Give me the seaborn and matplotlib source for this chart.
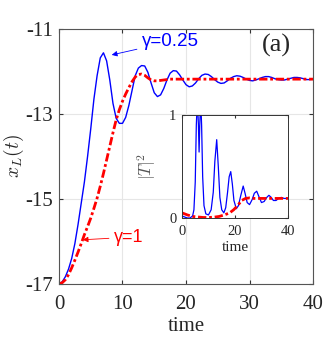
import numpy as np
import pandas as pd
import matplotlib
matplotlib.use("Agg")
import matplotlib.pyplot as plt
import seaborn as sns

# main panel: x_L(t) for the two damping values
t_main = np.arange(0, 40.5, 0.5)
x_gamma_025 = [
    -17.0, -16.95, -16.83, -16.65, -16.4, -16.05, -15.6, -15.1, -14.6, -14.0,
    -13.35, -12.65, -12.1, -11.68, -11.56, -11.75, -12.2, -12.75, -13.1, -13.22,
    -13.22, -13.08, -12.8, -12.45, -12.1, -11.92, -11.86, -11.87, -12.02, -12.27,
    -12.5, -12.59, -12.55, -12.4, -12.2, -12.04, -11.98, -11.99, -12.08, -12.2,
    -12.31, -12.36, -12.34, -12.27, -12.17, -12.09, -12.06, -12.07, -12.12, -12.19,
    -12.25, -12.28, -12.27, -12.22, -12.16, -12.12, -12.1, -12.11, -12.14, -12.18,
    -12.21, -12.22, -12.2, -12.17, -12.14, -12.12, -12.12, -12.14, -12.17, -12.19,
    -12.2, -12.2, -12.18, -12.16, -12.14, -12.14, -12.15, -12.17, -12.19, -12.19,
    -12.18,
]
x_gamma_1 = [
    -17.0, -16.97, -16.9, -16.78, -16.62, -16.44, -16.25, -16.05, -15.84, -15.65,
    -15.45, -15.22, -14.98, -14.7, -14.4, -14.08, -13.76, -13.44, -13.14, -12.9,
    -12.7, -12.53, -12.38, -12.24, -12.13, -12.07, -12.06, -12.09, -12.15, -12.2,
    -12.22, -12.22, -12.21, -12.2, -12.19, -12.18, -12.18, -12.18, -12.18, -12.18,
    -12.18, -12.18, -12.18, -12.18, -12.18, -12.18, -12.18, -12.18, -12.18, -12.18,
    -12.18, -12.18, -12.18, -12.18, -12.18, -12.18, -12.18, -12.18, -12.18, -12.18,
    -12.18, -12.18, -12.18, -12.18, -12.18, -12.18, -12.18, -12.18, -12.18, -12.18,
    -12.18, -12.18, -12.18, -12.18, -12.18, -12.18, -12.18, -12.18, -12.18, -12.18,
    -12.18,
]

# inset: |T|^2
t_T_025 = [0, 1, 2, 3, 4, 4.5, 5.0, 5.4, 5.8, 6.2, 6.45, 6.7, 7.05, 7.4, 7.8,
           8.3, 9.0, 10.0, 11.0, 11.8, 12.4, 13.1, 13.7, 14.3, 15.0, 15.8, 16.5,
           17.2, 17.8, 18.4, 19.0, 19.6, 20.5, 21.3, 22.2, 23.1, 23.8, 24.6, 25.5,
           26.5, 27.3, 28.2, 29.0, 30.0, 31.0, 32.0, 32.8, 33.7, 34.5, 35.5, 36.5,
           37.5, 38.5, 40.0]
T_gamma_025 = [0.02, 0.01, 0.0, 0.0, 0.02, 0.08, 0.35, 0.9, 1.15, 0.9, 0.64, 0.9,
               1.15, 0.9, 0.4, 0.12, 0.04, 0.03, 0.08, 0.25, 0.55, 0.76, 0.5, 0.2,
               0.08, 0.05, 0.1, 0.25, 0.4, 0.45, 0.33, 0.17, 0.09, 0.12, 0.22, 0.31,
               0.24, 0.15, 0.13, 0.18, 0.24, 0.26, 0.21, 0.15, 0.16, 0.2, 0.22, 0.2,
               0.17, 0.17, 0.19, 0.2, 0.19, 0.19]
t_T_1 = [0, 2, 4, 6, 8, 10, 12, 14, 16, 18, 19.5, 21, 22.5, 24, 25.5, 27, 30, 35, 40]
T_gamma_1 = [0.05, 0.03, 0.015, 0.01, 0.005, 0.005, 0.008, 0.015, 0.03, 0.05, 0.08,
             0.12, 0.17, 0.19, 0.195, 0.19, 0.19, 0.19, 0.19]

main_ticks_x = [0, 10, 20, 30, 40]
main_ticks_y = [-17, -15, -13, -11]

sns.set_style("ticks")
plt.rcParams['font.family'] = ['Liberation Serif', 'DejaVu Serif']
plt.rcParams['mathtext.fontset'] = 'cm'

blue = '#0000ff'
red = '#ff0000'
dashdot = (0, (3, 1, 1, 1))
sans = ['Liberation Sans', 'DejaVu Sans']

fig = plt.figure(figsize=(3.27, 3.38), dpi=100)
ax = fig.add_axes([0.1804, 0.1598, 0.7768, 0.7544])

df_main = pd.DataFrame({'t': t_main, 'g025': x_gamma_025, 'g1': x_gamma_1})
sns.lineplot(data=df_main, x='t', y='g025', ax=ax, color=blue, lw=1.0,
             estimator=None)
sns.lineplot(data=df_main, x='t', y='g1', ax=ax, color=red, lw=2.0,
             linestyle=dashdot, estimator=None)

ax.set_xlim(0, 40)
ax.set_ylim(-17, -11)
ax.set_xticks(main_ticks_x)
ax.set_yticks(main_ticks_y)
ax.set_yticklabels([str(v) for v in main_ticks_y])
ax.grid(True, color='#e6e6e6', lw=0.8)
ax.set_axisbelow(True)
ax.tick_params(direction='in', length=3, labelsize=15, top=True, right=True,
               color='#333333')
ax.tick_params(axis='x', pad=8)
ax.tick_params(axis='y', pad=4)
for s in ax.spines.values():
    s.set_color('#555555')
    s.set_linewidth(0.8)
ax.set_xlabel('time', fontsize=15, labelpad=2)
ax.set_ylabel('$x_L(t)$', fontsize=14, labelpad=0)

ax.annotate('γ=0.25', xy=(8.3, -11.61), xytext=(13.0, -11.3),
            color=blue, fontsize=13.5, family=sans, va='center', ha='left',
            arrowprops=dict(arrowstyle='-|>', color=blue, lw=0.6,
                            mutation_scale=8, shrinkA=1, shrinkB=0))
ax.annotate('γ=1', xy=(3.73, -15.96), xytext=(8.6, -15.9),
            color=red, fontsize=13, family=sans, va='center', ha='left',
            arrowprops=dict(arrowstyle='-|>', color=red, lw=0.6,
                            mutation_scale=8, shrinkA=1, shrinkB=0))
ax.text(0.915, 0.935, '(a)', transform=ax.transAxes, fontsize=19,
        ha='right', va='center')

# inset
axi = fig.add_axes([0.5566, 0.355, 0.324, 0.305])
axi.set_facecolor('white')
df_b = pd.DataFrame({'t': t_T_025, 'T': T_gamma_025})
df_r = pd.DataFrame({'t': t_T_1, 'T': T_gamma_1})
sns.lineplot(data=df_b, x='t', y='T', ax=axi, color=blue, lw=0.9, estimator=None)
sns.lineplot(data=df_r, x='t', y='T', ax=axi, color=red, lw=2.0,
             linestyle=dashdot, estimator=None)
axi.set_xlim(0, 40)
axi.set_ylim(0, 1)
axi.set_xticks([0, 20, 40])
axi.set_yticks([0, 1])
axi.tick_params(direction='in', length=2, labelsize=10.5, top=True, right=True,
                color='#333333')
axi.tick_params(axis='x', pad=5)
axi.tick_params(axis='y', pad=4)
for s in axi.spines.values():
    s.set_color('#333333')
    s.set_linewidth(0.7)
axi.set_xlabel('time', fontsize=11, labelpad=2)
axi.set_ylabel('$|T|^2$', fontsize=12, labelpad=8, color='#555555')

fig.savefig('out.png', dpi=100)
